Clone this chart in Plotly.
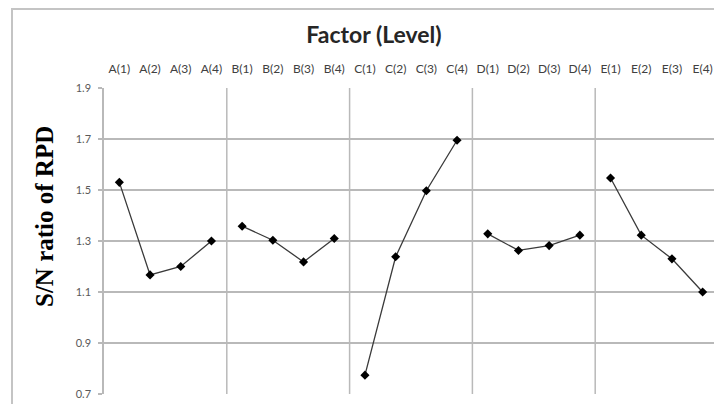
import plotly.graph_objects as go

factors = ["A", "B", "C", "D", "E"]
levels = [1, 2, 3, 4]
categories = [f"{f}({l})" for f in factors for l in levels]
tick_text = ["A(1)", "A(2)", "A(3)", "A(4)", "B(1)", "B(2)", "B(3)", "B(4)",
             "C(1)", "C(2)", "C(3)", "C(4)", "D(1)", "D(2)", "D(3)", "D(4)",
             "E(1)", "E(2)", "E(3)", "E(4)"]
A_vals = [1.53, 1.167, 1.20, 1.30]
B_vals = [1.358, 1.303, 1.218, 1.31]
C_vals = [0.774, 1.238, 1.497, 1.695]
D_vals = [1.328, 1.263, 1.282, 1.323]
E_vals = [1.547, 1.323, 1.23, 1.10]
series = {"A": A_vals, "B": B_vals, "C": C_vals, "D": D_vals, "E": E_vals}
y_ticks = [0.7, 0.9, 1.1, 1.3, 1.5, 1.7, 1.9]

fig = go.Figure()
for f in factors:
    fig.add_trace(go.Scatter(
        x=[f"{f}({l})" for l in levels], y=series[f], mode="lines+markers",
        line=dict(color="#3a3a3a", width=1.3),
        marker=dict(symbol="diamond", size=7, color="#000000"),
        showlegend=False, hoverinfo="x+y"))

# page offset (default body margin of the html page)
OFF = 8
W, H = 722 - OFF, 404 - OFF
ml, mr, mt, mb = 104 - OFF, 4, 88 - OFF, 10
pw, ph = W - ml - mr, H - mt - mb
def px(x): return (x - OFF - ml) / pw
def py(y): return (H - mb - (y - OFF)) / ph

grid_color = "#b9b9b9"
shapes = []
n = len(levels)
for i in range(1, len(factors) + 1):
    xb = i * n - 0.5
    shapes.append(dict(type="line", xref="x", yref="y", x0=xb, x1=xb,
                       y0=y_ticks[0], y1=y_ticks[-1],
                       line=dict(color=grid_color, width=1.5), layer="below"))
# outer chart border
shapes.append(dict(type="rect", xref="paper", yref="paper",
                   x0=px(12), x1=px(740), y0=py(420), y1=py(9),
                   line=dict(color="#c4c4c4", width=2), layer="below"))

fig.update_layout(
    width=W, height=H,
    margin=dict(l=ml, r=mr, t=mt, b=mb),
    paper_bgcolor="white", plot_bgcolor="white",
    shapes=shapes,
    title=dict(text="<b>Factor (Level)</b>", x=(374 - OFF) / W, xanchor="center",
               y=1 - (35 - OFF) / H, yanchor="middle",
               font=dict(family="Lato", size=23, color="#262626")),
    annotations=[dict(text="<b>S/N ratio of RPD</b>", xref="paper", yref="paper",
                      x=px(45), y=py(217), xanchor="center", yanchor="middle",
                      textangle=-90, showarrow=False,
                      font=dict(family="Liberation Serif", size=25, color="#000000"))],
    xaxis=dict(type="category", categoryorder="array", categoryarray=categories,
               tickvals=categories, ticktext=tick_text,
               side="top", showgrid=False, showline=False, zeroline=False,
               ticks="", ticklabelstandoff=12,
               tickfont=dict(family="Lato", size=12, color="#404040"),
               range=[-0.5, len(categories) - 0.5], fixedrange=True),
    yaxis=dict(range=[y_ticks[0], y_ticks[-1]], tickvals=y_ticks,
               ticktext=[f"{v:.1f}" for v in y_ticks],
               showgrid=True, gridcolor=grid_color, gridwidth=1.5,
               showline=True, linecolor=grid_color, linewidth=1.5,
               ticks="outside", ticklen=4, tickcolor=grid_color, tickwidth=1.5,
               zeroline=False, ticklabelstandoff=5,
               tickfont=dict(family="Lato", size=11, color="#595959")),
)
fig.write_html("out.html")
